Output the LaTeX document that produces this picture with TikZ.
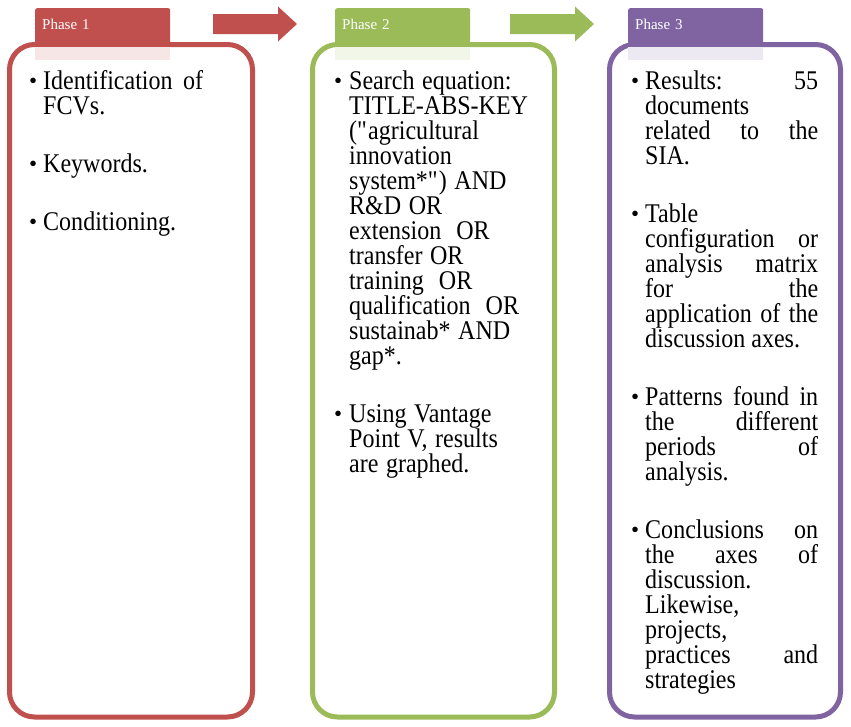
\documentclass[tikz,border=0pt]{standalone}
\usepackage{fontspec}
\setmainfont{Liberation Serif}[FakeStretch=0.89]
\newfontfamily\tabfont{Liberation Serif}
\usepackage{xcolor}
\usepackage{tikz}

\definecolor{phred}{HTML}{C0504D}
\definecolor{phgreen}{HTML}{9BBB59}
\definecolor{phpurple}{HTML}{8064A2}

\hyphenpenalty=10000
\exhyphenpenalty=10000
\tolerance=10000
\hbadness=10000

\newcommand{\phbullet}{\raisebox{0.5pt}{\tabfont\fontsize{23}{23}\selectfont\textbullet}}
\newenvironment{phaselist}[1]{%
  \fontsize{27}{25}\selectfont
  \begin{list}{\phbullet}{\leftmargin=#1\labelwidth=#1\labelsep=0pt%
    \itemsep=33pt\parsep=0pt\topsep=0pt\partopsep=0pt%
    \def\makelabel##1{##1\hfil}}}
  {\end{list}}

\begin{document}
\begin{tikzpicture}[x=1pt, y=-1pt,
phasebox/.style={draw=#1, line width=5pt, rounded corners=25pt, fill=white, inner sep=0pt},
phasetab/.style={fill=#1, rounded corners=2pt, minimum width=135pt, minimum height=36pt, anchor=north west, inner xsep=7pt, text width=121pt, align=left, text height=10pt, text depth=3pt, text=white, font=\tabfont\fontsize{15}{16}\selectfont},
phasetext/.style={anchor=north west, inner sep=0pt, text width=#1, align=justify},
blockarrow/.pic={\fill (0,-10) -- (65,-10) -- (65,-17.5) -- (84,0) -- (65,17.5) -- (65,10) -- (0,10) -- cycle;}
]
	\useasboundingbox (0,0) rectangle (851,726);

	\node[phasebox=phred, minimum width=243pt, minimum height=672.5pt] (box1) at (131,380.75) {};
	\node[phasebox=phgreen, minimum width=242pt, minimum height=672.5pt] (box2) at (433.5,380.75) {};
	\node[phasebox=phpurple, minimum width=231pt, minimum height=672.5pt] (box3) at (725,380.75) {};

	\fill[phred!14] (35,47) rectangle (170,60);
	\fill[phgreen!14] (335,47) rectangle (470,60);
	\fill[phpurple!14] (628,47) rectangle (763,60);

	\node[phasetab=phred] (tab1) at (35,8) {Phase 1};
	\node[phasetab=phgreen] (tab2) at (335,8) {Phase 2};
	\node[phasetab=phpurple] (tab3) at (628,8) {Phase 3};

	\coordinate (arr1) at (213,24);
	\coordinate (arr2) at (510,24);
	\pic[phred] at (arr1) {blockarrow};
	\pic[phgreen] at (arr2) {blockarrow};

	\node[phasetext=174pt] (txt1) at (29,64) {\begin{phaselist}{14pt}
		\item \rule{0pt}{19pt}Identification~of\linebreak FCVs.
		\item Keywords.
		\item Conditioning.
	\end{phaselist}};
	\node[phasetext=201pt, align=left] (txt2) at (334,64) {\begin{phaselist}{15pt}\raggedright\spaceskip=7.5pt plus 2pt
		\item \rule{0pt}{19pt}Search equation:\\ TITLE-ABS-KEY\\ (\textquotedbl agricultural\\ innovation\\ system*\textquotedbl) AND\\ R\&D OR\\ extension~~OR\\ transfer OR\\ training~~OR\\ qualification~~OR\\ sustainab* AND\\ gap*.
		\item Using Vantage\\ Point V, results\\ are graphed.
	\end{phaselist}};
	\node[phasetext=187pt] (txt3) at (631,64) {\begin{phaselist}{14pt}
		\item \rule{0pt}{19pt}Results:~55\linebreak documents\linebreak related~to~the\linebreak SIA.
		\item Table\linebreak configuration~or\linebreak analysis~matrix\linebreak for~the\linebreak application~of~the\linebreak discussion axes.
		\item Patterns~found~in\linebreak the~different\linebreak periods~of\linebreak analysis.
		\item Conclusions~on\linebreak the~axes~of\linebreak discussion.\linebreak Likewise,\linebreak projects,\linebreak practices~and\linebreak strategies
	\end{phaselist}};
\end{tikzpicture}
\end{document}
